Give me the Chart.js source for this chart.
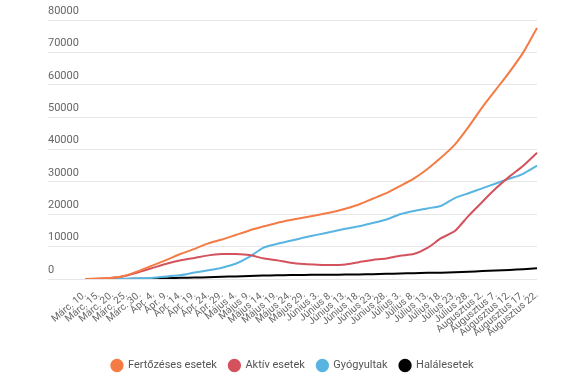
<!DOCTYPE html>
<html>
<head>
<meta charset="utf-8">
<script src="https://cdn.jsdelivr.net/npm/chart.js@4/dist/chart.umd.min.js"></script>
<style>
    html, body { margin: 0; padding: 0; background: #fff; }
    #wrap { width: 575px; height: 387px; }
</style>
</head>
<body>
<div id="wrap"><canvas id="covidChart"></canvas></div>
<script>
const labels = ["Márc. 10.", "Márc. 15.", "Márc. 20.", "Márc. 25.", "Márc. 30.", "Ápr. 4.", "Ápr. 9.", "Ápr. 14.", "Ápr. 19.", "Ápr. 24.", "Ápr. 29.",
    "Május 4.", "Május 9.", "Május 14.", "Május 19.", "Május 24.", "Május 29.", "Június 3.", "Június 8.", "Június 13.", "Június 18.", "Június 23.", "Június 28.",
    "Július 3.", "Július 8.", "Július 13.", "Július 18.", "Július 23.", "Július 28.", "Augusztus 2.", "Augusztus 7.", "Augusztus 12.", "Augusztus 17.", "Augusztus 22."];

const fertozesek = [0, 150, 400, 1100, 2600, 4300, 6000, 7800, 9300, 11000, 12200, 13600, 15000, 16200, 17300, 18200, 19000,
    19800, 20600, 21700, 23000, 24800, 26500, 28700, 31000, 34000, 37500, 41500, 47000, 53000, 58500, 64000, 70000, 77500];
const aktiv = [0, 100, 350, 1000, 2200, 3500, 4800, 5800, 6500, 7300, 7700, 7700, 7400, 6400, 5800, 5000, 4600,
    4400, 4300, 4500, 5200, 5900, 6300, 7200, 7700, 9600, 12600, 14800, 19500, 23800, 28000, 31700, 35000, 39000];
const gyogyultak = [0, 0, 10, 80, 200, 400, 800, 1200, 2000, 2700, 3500, 4700, 6800, 9600, 10800, 11800, 12800,
    13700, 14600, 15500, 16300, 17300, 18400, 20000, 21000, 21800, 22600, 25000, 26500, 28000, 29500, 31000, 32500, 35000];
const halalesetek = [0, 0, 0, 20, 70, 150, 250, 350, 450, 550, 700, 800, 900, 1050, 1150, 1200, 1250,
    1300, 1330, 1370, 1420, 1500, 1600, 1700, 1800, 1900, 1950, 2100, 2250, 2450, 2600, 2800, 3000, 3300];

const gridColor = "#e6e6e6";

function line(label, data, color) {
    return {
        label,
        data,
        borderColor: color,
        backgroundColor: color,
        borderWidth: 2,
        pointRadius: 0,
        tension: 0.2,
        fill: false
    };
}

new Chart(document.getElementById("covidChart"), {
    type: "line",
    data: {
        labels,
        datasets: [
            line("Fertőzéses esetek", fertozesek, "#f47b45"),
            line("Aktív esetek", aktiv, "#d4525d"),
            line("Gyógyultak", gyogyultak, "#58b4e1"),
            line("Halálesetek", halalesetek, "#000000")
        ]
    },
    options: {
        responsive: true,
        maintainAspectRatio: false,
        animation: false,
        layout: {
            padding: { top: 20, left: 48, right: 38, bottom: 6 }
        },
        plugins: {
            tooltip: { enabled: false },
            legend: {
                position: "bottom",
                labels: {
                    usePointStyle: true,
                    pointStyle: "circle",
                    boxHeight: 8,
                    padding: 12,
                    color: "#555",
                    font: { family: "Roboto", size: 11 }
                }
            }
        },
        scales: {
            x: {
                grid: { display: false },
                border: { display: false },
                afterFit: scale => { scale.height = 69; },
                ticks: {
                    autoSkip: false,
                    maxRotation: 40,
                    minRotation: 40,
                    padding: 2,
                    color: "#666",
                    font: { family: "Roboto", size: 10 }
                }
            },
            y: {
                min: 0,
                max: 80000,
                afterFit: scale => { scale.width = 37; },
                grid: {
                    color: gridColor,
                    tickColor: gridColor,
                    tickLength: 37
                },
                border: { display: false },
                ticks: {
                    stepSize: 10000,
                    crossAlign: "far",
                    labelOffset: -9,
                    color: "#666",
                    font: { family: "Roboto", size: 11 },
                    callback: value => String(value)
                }
            }
        }
    }
});
</script>
</body>
</html>
